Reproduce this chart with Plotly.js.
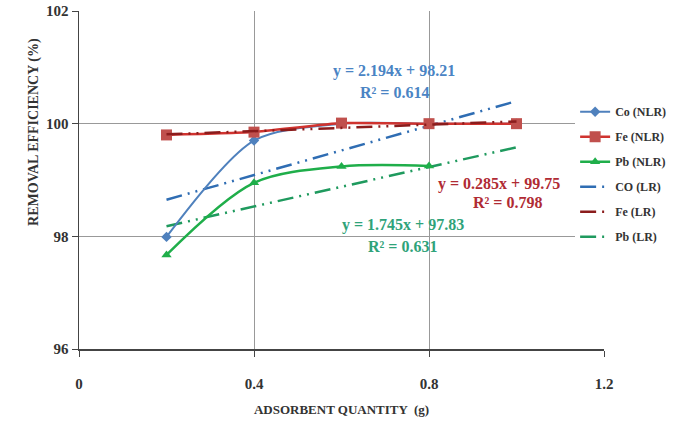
<!DOCTYPE html>
<html>
<head>
<meta charset="utf-8">
<script src="https://cdn.plot.ly/plotly-3.0.1.min.js"></script>
<style>html,body{margin:0;padding:0;background:#fff;}#chart{width:685px;height:421px;}</style>
</head>
<body>
<div id="chart"></div>
<script>
// Data
const xNLR = [0.2, 0.4, 0.6, 0.8, 1.0];
const coNLR = [97.99, 99.70, 100.00, 100.00, 100.00];
const feNLR = [99.80, 99.85, 100.01, 100.00, 100.00];
const xPb = [0.2, 0.4, 0.6, 0.8];
const pbNLR = [97.67, 98.95, 99.24, 99.25];
const xLR = [0.2, 1.0];
const coLR = [98.65, 100.40];
const feLR = [99.81, 100.04];
const pbLR = [98.18, 99.58];
const xTicks = [0, 0.4, 0.8, 1.2];
const yTicks = [96, 98, 100, 102];
const names = ['Co (NLR)', 'Fe (NLR)', 'Pb (NLR)', 'CO (LR)', 'Fe (LR)', 'Pb (LR)'];
const eqCo = ['y = 2.194x + 98.21', 'R² = 0.614'];
const eqFe = ['y = 0.285x + 99.75', 'R² = 0.798'];
const eqPb = ['y = 1.745x + 97.83', 'R² = 0.631'];

const serif = 'Liberation Serif, Times New Roman, serif';
const dashLR = '16px,6px,2px,6px,2px,6px';

const traces = [
  {x: xLR, y: coLR, name: names[3], mode: 'lines', legendrank: 4, legendgroup: 'd',
   line: {color: '#2f6db3', width: 2.5, dash: dashLR}},
  {x: xLR, y: pbLR, name: names[5], mode: 'lines', legendrank: 6, legendgroup: 'f',
   line: {color: '#1f9a5e', width: 2.5, dash: dashLR}},
  {x: xNLR, y: coNLR, name: names[0], mode: 'lines+markers', legendrank: 1, legendgroup: 'a',
   line: {color: '#4f81bd', width: 2, shape: 'spline', smoothing: 0.8},
   marker: {symbol: 'diamond', size: 8, color: '#4f81bd'}},
  {x: xPb, y: pbNLR, name: names[2], mode: 'lines+markers', legendrank: 3, legendgroup: 'c',
   line: {color: '#1fae4a', width: 2.5, shape: 'spline', smoothing: 0.9},
   marker: {symbol: 'triangle-up', size: 9, color: '#1fae4a'}},
  {x: xNLR, y: feNLR, name: names[1], mode: 'lines+markers', legendrank: 2, legendgroup: 'b',
   line: {color: '#d0332f', width: 2.5, shape: 'spline', smoothing: 0.4},
   marker: {symbol: 'square', size: 11, color: '#c0504d'}},
  {x: xLR, y: feLR, name: names[4], mode: 'lines', legendrank: 5, legendgroup: 'e',
   line: {color: '#8b1c1c', width: 2.5, dash: dashLR}}
];

const annFont = (c) => ({family: serif, size: 16, color: c, weight: 'bold'});
const annotations = [
  {x: 0.72, y: 100.94, text: eqCo[0], font: annFont('#4a84c4')},
  {x: 0.72, y: 100.56, text: eqCo[1], font: annFont('#4a84c4')},
  {x: 0.96, y: 98.93, text: eqFe[0], font: annFont('#b02b34')},
  {x: 0.98, y: 98.60, text: eqFe[1], font: annFont('#b02b34')},
  {x: 0.74, y: 98.21, text: eqPb[0], font: annFont('#2fa37a')},
  {x: 0.74, y: 97.82, text: eqPb[1], font: annFont('#2fa37a')},
  {xref: 'paper', yref: 'paper', x: -0.105, y: 0.642, text: 'REMOVAL EFFICIENCY (%)', textangle: -90,
   font: {family: serif, size: 14, color: '#333', weight: 'bold'}}
].map(a => Object.assign({showarrow: false, xref: 'x', yref: 'y'}, a));

const layout = {
  width: 685, height: 421,
  margin: {l: 79, r: 81, t: 11, b: 72},
  paper_bgcolor: '#fff', plot_bgcolor: '#fff',
  font: {family: serif, color: '#333'},
  showlegend: true,
  legend: {x: 0.945, xanchor: 'left', y: 0.745, yanchor: 'top', bgcolor: '#fff',
           font: {family: serif, size: 12, color: '#333', weight: 'bold'},
           tracegroupgap: 6, itemwidth: 30},
  xaxis: {range: [0, 1.2], tickvals: xTicks, ticktext: xTicks.map(String),
          showgrid: true, gridcolor: '#999', gridwidth: 1,
          showline: true, linecolor: '#444', linewidth: 1.5, zeroline: false,
          ticks: 'outside', ticklen: 6, tickcolor: '#444', ticklabelstandoff: 14,
          tickfont: {family: serif, size: 15, color: '#333', weight: 'bold'},
          title: {text: 'ADSORBENT QUANTITY  (g)', standoff: 14,
                  font: {family: serif, size: 13, color: '#333', weight: 'bold'}}},
  yaxis: {range: [96, 102], tickvals: yTicks, ticktext: yTicks.map(String),
          showgrid: true, gridcolor: '#999', gridwidth: 1,
          showline: true, linecolor: '#444', linewidth: 1.5, zeroline: false,
          ticks: 'outside', ticklen: 6, tickcolor: '#444',
          tickfont: {family: serif, size: 15, color: '#333', weight: 'bold'}},
  annotations: annotations
};

Plotly.newPlot('chart', traces, layout, {displayModeBar: false, staticPlot: true});
</script>
</body>
</html>
